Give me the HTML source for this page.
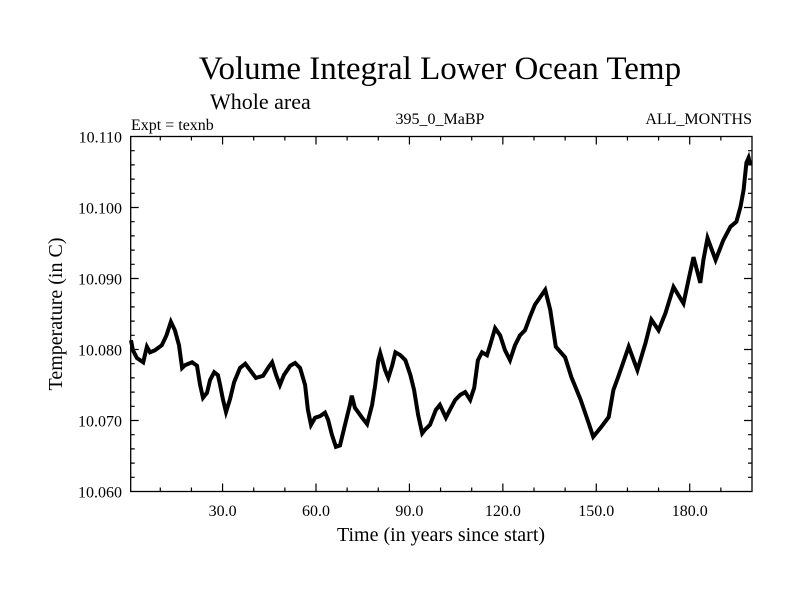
<!DOCTYPE html>
<html><head><meta charset="utf-8"><style>
html,body{margin:0;padding:0;background:#fff;}
svg text{font-family:"Liberation Serif",serif;fill:#000;}
</style></head><body>
<svg id="chart" width="800" height="600" viewBox="0 0 800 600" xmlns="http://www.w3.org/2000/svg">
<text x="440" y="79" font-size="33" text-anchor="middle">Volume Integral Lower Ocean Temp</text>
<text x="210" y="109" font-size="22">Whole area</text>
<text x="131" y="130" font-size="16">Expt = texnb</text>
<text x="440" y="124" font-size="16" text-anchor="middle">395_0_MaBP</text>
<text x="752" y="124" font-size="16" text-anchor="end">ALL_MONTHS</text>
<text transform="translate(62,314) rotate(-90)" font-size="20" text-anchor="middle">Temperature (in C)</text>
<text x="441" y="541" font-size="20" text-anchor="middle">Time (in years since start)</text>
<g id="axes"></g>
<g id="series"></g>
</svg>
<script>
const years=[0.6,1.2,2.5,4.5,5.7,6.7,8.3,10.5,12,13.4,14.7,16,17,18,20.2,21.8,22.8,23.7,25,26,27.3,28.5,29.2,30.1,31.1,32.4,33.7,35.6,37.3,38.8,40.7,43,44.6,45.9,47.2,48.4,49.7,51.7,53.3,54.9,56.5,57.4,58.4,59.7,61.3,62.9,63.9,65.1,66.4,67.7,69.3,70.9,71.5,72.5,74.8,76.4,78,79,80,80.6,82.2,83.2,84.5,85.5,87.1,88.7,90.3,91.5,92.8,94.1,95,96.6,98.5,99.8,101.7,103,104.7,106.3,107.9,109.5,110.8,112,113.3,114.9,115.9,117.5,119.1,120.7,122.3,123.9,125.5,127.1,128.7,130.3,133.6,135.2,137,140,142,145,147.5,149,151.6,154,155.5,157,160.4,163.2,165.8,167.7,170,172.2,174.8,178,179.6,181.2,183.4,184.4,185.7,188.3,190.8,193.1,195,196.3,197.3,198.2,198.9,199.5];
const temps=[10.0813,10.0799,10.0788,10.0782,10.0804,10.0796,10.0799,10.0806,10.0820,10.0839,10.0827,10.0806,10.0774,10.0778,10.0782,10.0777,10.0750,10.0732,10.0739,10.0757,10.0768,10.0764,10.0750,10.0730,10.0712,10.0730,10.0754,10.0774,10.0780,10.0771,10.0760,10.0763,10.0774,10.0782,10.0764,10.0750,10.0764,10.0777,10.0781,10.0774,10.0750,10.0715,10.0694,10.0704,10.0706,10.0711,10.0701,10.0680,10.0663,10.0665,10.0694,10.0722,10.0735,10.0718,10.0704,10.0695,10.0722,10.0750,10.0785,10.0795,10.0771,10.0760,10.0778,10.0796,10.0792,10.0785,10.0764,10.0743,10.0708,10.0682,10.0687,10.0694,10.0715,10.0722,10.0704,10.0715,10.0729,10.0736,10.0740,10.0729,10.0746,10.0785,10.0796,10.0792,10.0806,10.0830,10.0820,10.0799,10.0785,10.0806,10.0820,10.0827,10.0846,10.0863,10.0884,10.0856,10.0804,10.0789,10.0761,10.0729,10.0697,10.0677,10.0691,10.0705,10.0743,10.0761,10.0804,10.0771,10.0809,10.0842,10.0827,10.0851,10.0888,10.0865,10.0898,10.0930,10.0894,10.0926,10.0957,10.0926,10.0954,10.0973,10.0980,10.1001,10.1025,10.1063,10.1070,10.1060];
const xTickLabels=["30.0","60.0","90.0","120.0","150.0","180.0"];
const yTickLabels=["10.060","10.070","10.080","10.090","10.100","10.110"];
const X0=130.7,X1=752,Y0=491.5,Y1=136.5,XMIN=0.5,XMAX=200,YMIN=10.06,YMAX=10.11;
const sx=t=>X0+(t-XMIN)/(XMAX-XMIN)*(X1-X0);
const sy=v=>Y0-(v-YMIN)/(YMAX-YMIN)*(Y0-Y1);
const NS="http://www.w3.org/2000/svg";
const axes=document.getElementById('axes');
function mk(tag,attrs,parent){const e=document.createElementNS(NS,tag);for(const k in attrs)e.setAttribute(k,attrs[k]);parent.appendChild(e);return e;}
const frame=mk('rect',{x:X0,y:Y1,width:X1-X0,height:Y0-Y1,fill:'none',stroke:'#000','stroke-width':1.3},axes);


for(let t=10;t<XMAX;t+=10){
  const x=sx(t),L=(t%30===0)?8:4;
  const tk=mk('path',{d:`M${x},${Y0}v${-L}M${x},${Y1}v${L}`,stroke:'#000','stroke-width':1.2},axes);
  
  
}
xTickLabels.forEach(s=>{
  const tx=mk('text',{x:sx(parseFloat(s)),y:516,'font-size':16,'text-anchor':'middle'},axes);
  tx.textContent=s;
  
  
});
for(let i=1;i<25;i++){
  const v=YMIN+i*0.002,y=sy(v),L=(i%5===0)?8:4;
  const tk=mk('path',{d:`M${X0},${y}h${L}M${X1},${y}h${-L}`,stroke:'#000','stroke-width':1.2},axes);
  
  
}
yTickLabels.forEach(s=>{
  const tx=mk('text',{x:122,y:sy(parseFloat(s))+6,'font-size':16,'text-anchor':'end'},axes);
  tx.textContent=s;
  
  
});
const ser=document.getElementById('series');
let d='';
years.forEach((t,i)=>{d+=(i?'L':'M')+sx(t).toFixed(1)+','+sy(temps[i]).toFixed(1);});
const line=mk('path',{d:d,fill:'none',stroke:'#000','stroke-width':4,'stroke-linejoin':'miter'},ser);


</script>
</body></html>
